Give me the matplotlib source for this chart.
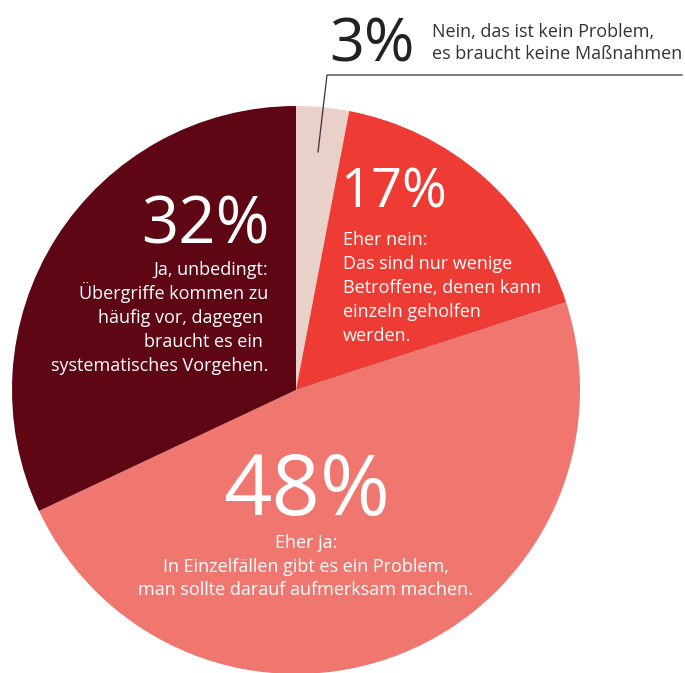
import matplotlib
matplotlib.use('Agg')
import matplotlib.pyplot as plt

# data
shares = [3, 17, 48, 32]
colors = ['#e9d0c8', '#ee3b34', '#ef776f', '#5e0614']
pct_labels = ['3%', '17%', '48%', '32%']
answers = [
    ['Nein, das ist kein Problem,', 'es braucht keine Maßnahmen'],
    ['Eher nein:', 'Das sind nur wenige', 'Betroffene, denen kann',
     'einzeln geholfen', 'werden.'],
    ['Eher ja:', 'In Einzelfällen gibt es ein Problem,',
     'man sollte darauf aufmerksam machen.'],
    ['Ja, unbedingt:', 'Übergriffe kommen zu', 'häufig vor, dagegen ',
     'braucht es ein ', 'systematisches Vorgehen.'],
]

W, H = 685, 673
plt.rcParams['font.family'] = ['Open Sans', 'DejaVu Sans']

fig = plt.figure(figsize=(W / 100, H / 100), dpi=100)
ax = fig.add_axes([0, 0, 1, 1])

def py(y):
    # pixel row from top -> data y
    return H - y

#The pie itself, clockwise from 12 o'clock
ax.pie(shares, colors=colors, startangle=90, counterclock=False,
       center=(296, py(390)), radius=284,
       wedgeprops=dict(linewidth=0))
ax.set_xlim(0, W)
ax.set_ylim(0, H)
ax.set_aspect('equal')
ax.axis('off')

def lines(x, y0, rows, ha, color, size, step):
    for i, row in enumerate(rows):
        ax.text(x, py(y0 + i * step), row, ha=ha, va='baseline',
                color=color, fontsize=size)

#3% - outside with leader line
ax.plot([318, 327, 682], [py(152), py(75), py(75)], color='#333333', lw=0.9)
ax.text(329, py(62), pct_labels[0], ha='left', va='baseline',
        color='#222222', fontsize=44)
lines(432, 37, answers[0], 'left', '#333333', 13, 22)

#17%
ax.text(340, py(207), pct_labels[1], ha='left', va='baseline',
        color='white', fontsize=39)
lines(343, 245, answers[1], 'left', 'white', 13, 24)

#48%
ax.text(307, py(515), pct_labels[2], ha='center', va='baseline',
        color='white', fontsize=61)
lines(306, 548, answers[2], 'center', 'white', 13, 23.5)

#32%
ax.text(270, py(243), pct_labels[3], ha='right', va='baseline',
        color='white', fontsize=47)
lines(268, 275, answers[3], 'right', 'white', 13, 24)

plt.savefig('out.png', dpi=100)
